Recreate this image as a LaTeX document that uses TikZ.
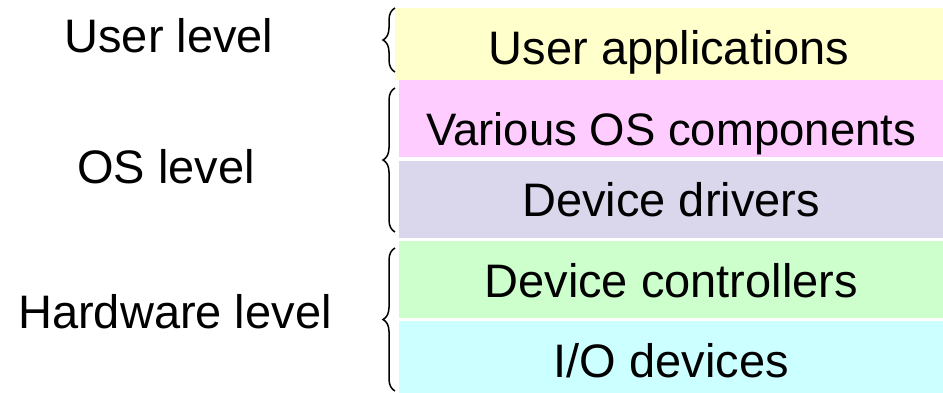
\documentclass[tikz,border=0pt]{standalone}
\usepackage{fontspec}
\setmainfont{Liberation Sans}
\usetikzlibrary{positioning,decorations.pathreplacing}

\definecolor{appfill}{HTML}{FFFFCC}
\definecolor{osfill}{HTML}{FFCCFF}
\definecolor{drvfill}{HTML}{DAD7EC}
\definecolor{ctlfill}{HTML}{CCFFCC}
\definecolor{iofill}{HTML}{CCFFFF}

\begin{document}
\begin{tikzpicture}[x=1pt,y=1pt,
		layer/.style={rectangle,inner sep=0pt,minimum width=544pt,minimum height=77pt,
			text height=35pt,text depth=0pt,font=\fontsize{47}{56}\selectfont},
		lvl/.style={inner sep=0pt,text height=38pt,text depth=0pt,font=\fontsize{47}{56}\selectfont},
		brc/.style={decorate,decoration={brace,amplitude=12pt},line width=1.5pt}]
	\useasboundingbox (0,0) rectangle (943,392);
	% the layers, top to bottom
	\node[layer,fill=appfill,minimum width=548pt,minimum height=72pt,text height=40pt,anchor=north west] (apps) at (395,384) {User applications};
	\node[layer,fill=osfill,text height=53pt,font=\fontsize{45.5}{56}\selectfont,anchor=north west] (os) at (399,312) {Various OS components};
	\node[layer,fill=drvfill,below=3pt of os] (drv) {Device drivers};
	\node[layer,fill=ctlfill,below=3pt of drv] (ctl) {Device controllers};
	\node[layer,fill=iofill,minimum height=72pt,text height=40pt,below=3pt of ctl] (io) {I/O devices};
	% level names
	\node[lvl] (user) at (169,359) {User level};
	\node[lvl] (oslvl) at (166,228) {OS level};
	\node[lvl] (hw) at (175,83) {Hardware level};
	% braces
	\coordinate (u1) at (395,320);
	\coordinate (u2) at (395,384);
	\coordinate (o1) at (395,160);
	\coordinate (o2) at (395,304);
	\coordinate (h1) at (395,1);
	\coordinate (h2) at (395,144);
	\draw[brc] (u1) -- (u2);
	\draw[brc] (o1) -- (o2);
	\draw[brc] (h1) -- (h2);
\end{tikzpicture}
\end{document}
